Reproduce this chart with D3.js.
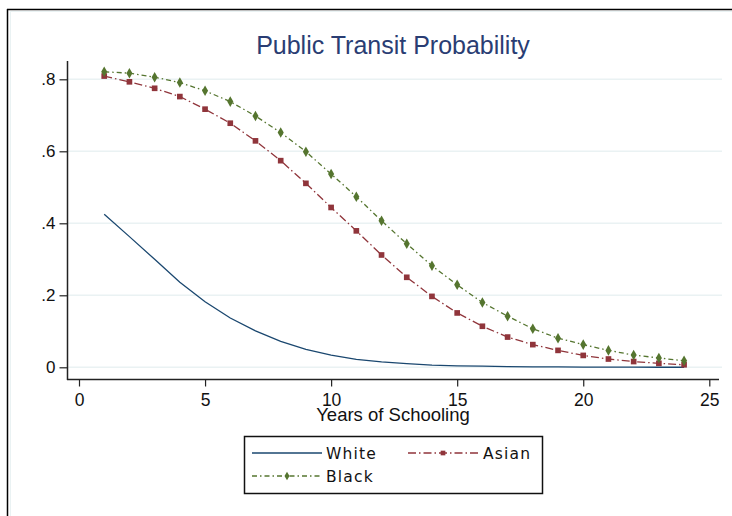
<!DOCTYPE html>
<html><head><meta charset="utf-8">
<script src="https://cdn.jsdelivr.net/npm/d3@7"></script>
<style>body{margin:0;background:#fff}svg{display:block}</style>
</head><body>
<script>
const years = d3.range(1, 25);
const white = [0.425,0.363,0.300,0.236,0.182,0.137,0.101,0.072,0.050,0.034,0.022,0.015,0.010,0.006,0.004,0.003,0.002,0.001,0.001,0.0006,0.0004,0.0003,0.0002,0.0001];
const asian = [0.809,0.793,0.775,0.752,0.717,0.678,0.629,0.574,0.511,0.444,0.379,0.312,0.250,0.197,0.151,0.114,0.084,0.063,0.047,0.033,0.023,0.016,0.011,0.007];
const black = [0.821,0.817,0.806,0.791,0.768,0.738,0.698,0.652,0.599,0.537,0.474,0.407,0.343,0.282,0.229,0.180,0.142,0.107,0.081,0.063,0.047,0.034,0.026,0.018];
const xTicks = [0,5,10,15,20,25];
const yTicks = [0,0.2,0.4,0.6,0.8];
const yTickLabels = ["0",".2",".4",".6",".8"];
const seriesNames = ["White","Asian","Black"];

const W = 732, H = 516;
const svg = d3.select("body").append("svg").attr("width", W).attr("height", H);

// outer frame (top and left edges visible)
svg.append("line").attr("x1",7).attr("x2",W).attr("y1",9.5).attr("y2",9.5).attr("stroke","#000").attr("stroke-width",1.5);
svg.append("line").attr("x1",7.5).attr("x2",7.5).attr("y1",9).attr("y2",H).attr("stroke","#000").attr("stroke-width",1.5);
svg.append("rect").attr("x",10.5).attr("y",11.5).attr("width",W).attr("height",H).attr("fill","none").attr("stroke","#eaf2f3").attr("stroke-width",1);

const x = d3.scaleLinear().domain([0,25]).range([79,709.3]);
const y = d3.scaleLinear().domain([0,0.8]).range([367.3,79.3]);

// gridlines
svg.append("g").selectAll("line").data(yTicks).join("line")
  .attr("x1",68).attr("x2",722).attr("y1",d=>y(d)).attr("y2",d=>y(d))
  .attr("stroke","#eaf2f3").attr("stroke-width",1.5);

// axes
const yAxis = d3.axisLeft(y).tickValues(yTicks).tickFormat((d,i)=>yTickLabels[i]).tickSize(8).tickPadding(4);
const gy = svg.append("g").attr("transform","translate(67.5,0)").call(yAxis);
gy.select(".domain").attr("d","M0,61V380").attr("stroke","#222").attr("stroke-width",1.5);

const xAxis = d3.axisBottom(x).tickValues(xTicks).tickSize(7).tickPadding(7);
const gx = svg.append("g").attr("transform","translate(0,379.5)").call(xAxis);
gx.select(".domain").attr("d","M67,0H719").attr("stroke","#222").attr("stroke-width",1.5);

[gx,gy].forEach(g=>{
  g.selectAll(".tick line").attr("stroke","#222").attr("stroke-width",1.2);
  g.selectAll(".tick text").attr("font-family","Liberation Sans, Arial, sans-serif").attr("font-size",17.5).attr("fill","#111");
});
gy.selectAll(".tick text").attr("font-size",17);

// title
svg.append("text").attr("x",393).attr("y",54).attr("text-anchor","middle")
  .attr("font-family","Liberation Sans, Arial, sans-serif").attr("font-size",25).attr("fill","#2a3d73")
  .text("Public Transit Probability");
// x title
svg.append("text").attr("x",393).attr("y",421).attr("text-anchor","middle")
  .attr("font-family","Liberation Sans, Arial, sans-serif").attr("font-size",18.5).attr("fill","#111")
  .text("Years of Schooling");

const colors = {White:"#1a476f", Asian:"#90353b", Black:"#55752f"};
const dashes = {White:null, Asian:"8,3,1.5,3", Black:"5,3,1.5,3"};
const line = d3.line().x((d,i)=>x(years[i])).y(d=>y(d));

const data = {White:white, Asian:asian, Black:black};
["White","Asian","Black"].forEach(name=>{
  svg.append("path").datum(data[name]).attr("d",line)
    .attr("fill","none").attr("stroke",colors[name]).attr("stroke-width",1.3)
    .attr("stroke-dasharray",dashes[name]);
});
const sym = {Asian:d3.symbolSquare, Black:d3.symbolDiamond};
const symSize = {Asian:32, Black:32};
["Asian","Black"].forEach(name=>{
  svg.append("g").selectAll("path").data(data[name]).join("path")
    .attr("transform",(d,i)=>`translate(${x(years[i])},${y(d)})`)
    .attr("d",d3.symbol().type(sym[name]).size(symSize[name]))
    .attr("fill",colors[name]);
});

// legend
const lg = svg.append("g");
lg.append("rect").attr("x",244.5).attr("y",436.5).attr("width",298).attr("height",57)
  .attr("fill","#fff").attr("stroke","#111").attr("stroke-width",1.5);
const items = [
  {name:"White", x1:252, x2:322, tx:326, y:453},
  {name:"Asian", x1:408, x2:478, tx:483, y:453},
  {name:"Black", x1:252, x2:322, tx:326, y:476}
];
items.forEach(it=>{
  lg.append("line").attr("x1",it.x1).attr("x2",it.x2).attr("y1",it.y).attr("y2",it.y)
    .attr("stroke",colors[it.name]).attr("stroke-width",1.3).attr("stroke-dasharray",dashes[it.name]);
  if (sym[it.name]) {
    lg.append("path").attr("transform",`translate(${(it.x1+it.x2)/2},${it.y})`)
      .attr("d",d3.symbol().type(sym[it.name]).size(22)).attr("fill",colors[it.name]);
  }
  lg.append("text").attr("x",it.tx).attr("y",it.y+5.5)
    .attr("font-family","'DejaVu Sans', Verdana, sans-serif").attr("font-size",15.5).attr("letter-spacing",1.2).attr("fill","#111")
    .text(it.name);
});
</script>
</body></html>
